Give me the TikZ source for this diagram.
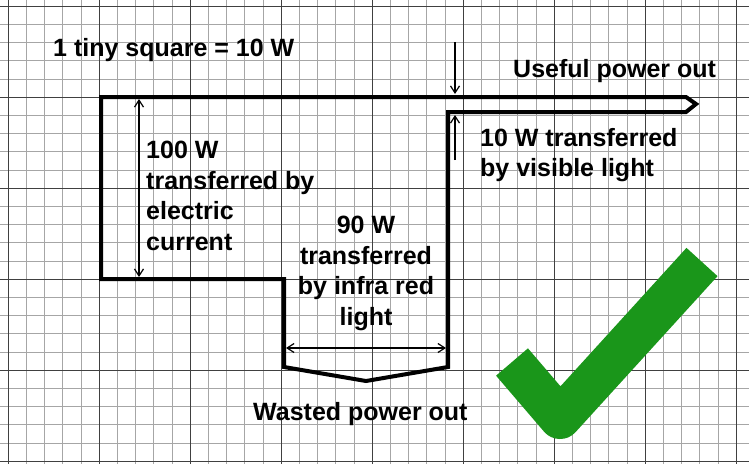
\documentclass[tikz,border=0pt]{standalone}
\usepackage{fontspec}
\setmainfont{Liberation Sans}
\usetikzlibrary{arrows.meta}
\definecolor{tickgreen}{RGB}{26,150,26}
\begin{document}
\begin{tikzpicture}
	[x=1pt,y=-1pt,
	label/.style={font=\bfseries\fontsize{25}{30.5}\selectfont,inner sep=0pt,align=left},
	band/.style={line width=4pt,line join=miter},
	dim/.style={line width=1.2pt,{Straight Barb[length=7pt,width=9pt]}-{Straight Barb[length=7pt,width=9pt]}},
	sarrow/.style={line width=1.2pt,-{Straight Barb[length=7pt,width=9pt]}}]
	\useasboundingbox (0,0) rectangle (749,464);
	% grid
	\foreach \i in {0,...,41}
		\draw[gray!70,line width=0.6pt] (8+18.2*\i,0) -- (8+18.2*\i,464);
	\foreach \j in {0,...,25}
		\draw[gray!70,line width=0.6pt] (0,6+18.2*\j) -- (749,6+18.2*\j);
	\foreach \i in {0,...,8}
		\draw[black!75,line width=1pt] (8+91*\i,0) -- (8+91*\i,464);
	\foreach \j in {0,...,5}
		\draw[black!75,line width=1pt] (0,6+91*\j) -- (749,6+91*\j);
	% sankey band
	\draw[band] (101,97) -- (686,97) -- (696,104) -- (686,112) -- (448,112)
		-- (448,367) -- (366,381) -- (284,367) -- (284,279) -- (101,279) -- cycle;
	\coordinate (intop) at (139,99);
	\coordinate (inbot) at (139,277);
	\coordinate (wl) at (286,348);
	\coordinate (wr) at (446,348);
	\coordinate (utop) at (455,42);
	\coordinate (uin) at (455,94);
	\coordinate (ubot) at (455,160);
	\coordinate (uin2) at (455,115);
	\draw[dim] (intop) -- (inbot);
	\draw[dim] (wl) -- (wr);
	\draw[sarrow] (utop) -- (uin);
	\draw[sarrow] (ubot) -- (uin2);
	% texts
	\node[label,anchor=west] (scale) at (53,50) {1 tiny square = 10 W};
	\node[label,anchor=west] (useful) at (513,71) {Useful power out};
	\node[label,anchor=west] (wasted) at (253,414) {Wasted power out};
	\node[label,anchor=north west] (input) at (146,141) {100 W\\transferred by\\electric\\current};
	\node[label,anchor=north,align=center] (heat) at (366,216) {90 W\\transferred\\by infra red\\light};
	\node[label,anchor=north west] (light) at (480,128) {10 W transferred\\by visible light};
	% tick
	\coordinate (t1) at (512,362);
	\coordinate (t2) at (560,418);
	\coordinate (t3) at (702,262);
	\draw[line width=42pt,tickgreen,line join=round] (t1) -- (t2) -- (t3);
\end{tikzpicture}
\end{document}
